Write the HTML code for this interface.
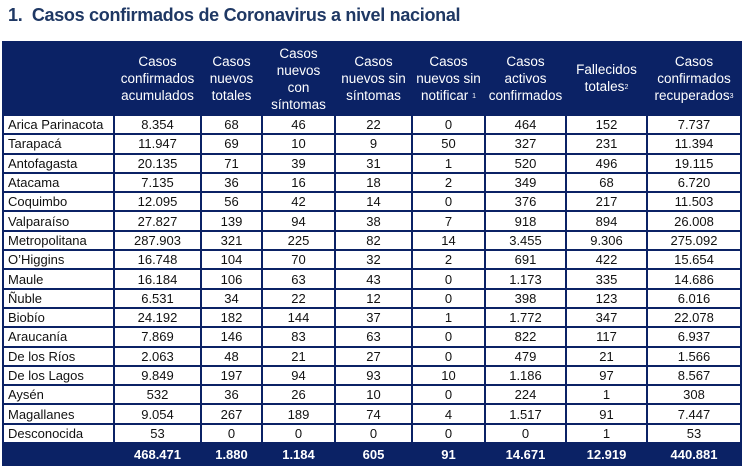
<!DOCTYPE html>
<html><head><meta charset="utf-8"><style>
body{margin:0;width:742px;height:465px;background:#fff;overflow:hidden;font-family:"Liberation Sans",sans-serif;}
h1{position:absolute;left:8px;top:5px;margin:0;font-size:18px;font-weight:bold;color:#1f3864;letter-spacing:-0.3px;}
table{position:absolute;left:2px;top:41px;border-collapse:collapse;table-layout:fixed;width:738px;}
td,th{border:2px solid #0b2265;padding:0;text-align:center;font-size:13px;color:#111;white-space:nowrap;overflow:hidden;}
th{background:#0b2265;color:#fff;font-weight:normal;line-height:17px;height:71px;font-size:13.5px;}
tr.r td{height:17.3px;line-height:15px;}
td.n{text-align:left;padding-left:4px;}
tr.t td{background:#0b2265;color:#fff;font-weight:bold;height:20px;}
sup{font-size:7px;vertical-align:2px;}
</style></head><body>
<h1>1.&nbsp; Casos confirmados de Coronavirus a nivel nacional</h1>
<table>
<colgroup><col style="width:111px"><col style="width:87px"><col style="width:61px"><col style="width:73px"><col style="width:77px"><col style="width:73px"><col style="width:81px"><col style="width:81px"><col style="width:94px"></colgroup>
<tr><th></th><th>Casos<br>confirmados<br>acumulados</th><th>Casos<br>nuevos<br>totales</th><th>Casos<br>nuevos<br>con<br>síntomas</th><th>Casos<br>nuevos sin<br>síntomas</th><th>Casos<br>nuevos sin<br>notificar <sup>1</sup></th><th>Casos<br>activos<br>confirmados</th><th>Fallecidos<br>totales<sup>2</sup></th><th>Casos<br>confirmados<br>recuperados<sup>3</sup></th></tr>
<tr class="r"><td class="n">Arica Parinacota</td><td>8.354</td><td>68</td><td>46</td><td>22</td><td>0</td><td>464</td><td>152</td><td>7.737</td></tr>
<tr class="r"><td class="n">Tarapacá</td><td>11.947</td><td>69</td><td>10</td><td>9</td><td>50</td><td>327</td><td>231</td><td>11.394</td></tr>
<tr class="r"><td class="n">Antofagasta</td><td>20.135</td><td>71</td><td>39</td><td>31</td><td>1</td><td>520</td><td>496</td><td>19.115</td></tr>
<tr class="r"><td class="n">Atacama</td><td>7.135</td><td>36</td><td>16</td><td>18</td><td>2</td><td>349</td><td>68</td><td>6.720</td></tr>
<tr class="r"><td class="n">Coquimbo</td><td>12.095</td><td>56</td><td>42</td><td>14</td><td>0</td><td>376</td><td>217</td><td>11.503</td></tr>
<tr class="r"><td class="n">Valparaíso</td><td>27.827</td><td>139</td><td>94</td><td>38</td><td>7</td><td>918</td><td>894</td><td>26.008</td></tr>
<tr class="r"><td class="n">Metropolitana</td><td>287.903</td><td>321</td><td>225</td><td>82</td><td>14</td><td>3.455</td><td>9.306</td><td>275.092</td></tr>
<tr class="r"><td class="n">O’Higgins</td><td>16.748</td><td>104</td><td>70</td><td>32</td><td>2</td><td>691</td><td>422</td><td>15.654</td></tr>
<tr class="r"><td class="n">Maule</td><td>16.184</td><td>106</td><td>63</td><td>43</td><td>0</td><td>1.173</td><td>335</td><td>14.686</td></tr>
<tr class="r"><td class="n">Ñuble</td><td>6.531</td><td>34</td><td>22</td><td>12</td><td>0</td><td>398</td><td>123</td><td>6.016</td></tr>
<tr class="r"><td class="n">Biobío</td><td>24.192</td><td>182</td><td>144</td><td>37</td><td>1</td><td>1.772</td><td>347</td><td>22.078</td></tr>
<tr class="r"><td class="n">Araucanía</td><td>7.869</td><td>146</td><td>83</td><td>63</td><td>0</td><td>822</td><td>117</td><td>6.937</td></tr>
<tr class="r"><td class="n">De los Ríos</td><td>2.063</td><td>48</td><td>21</td><td>27</td><td>0</td><td>479</td><td>21</td><td>1.566</td></tr>
<tr class="r"><td class="n">De los Lagos</td><td>9.849</td><td>197</td><td>94</td><td>93</td><td>10</td><td>1.186</td><td>97</td><td>8.567</td></tr>
<tr class="r"><td class="n">Aysén</td><td>532</td><td>36</td><td>26</td><td>10</td><td>0</td><td>224</td><td>1</td><td>308</td></tr>
<tr class="r"><td class="n">Magallanes</td><td>9.054</td><td>267</td><td>189</td><td>74</td><td>4</td><td>1.517</td><td>91</td><td>7.447</td></tr>
<tr class="r"><td class="n">Desconocida</td><td>53</td><td>0</td><td>0</td><td>0</td><td>0</td><td>0</td><td>1</td><td>53</td></tr>
<tr class="t"><td></td><td>468.471</td><td>1.880</td><td>1.184</td><td>605</td><td>91</td><td>14.671</td><td>12.919</td><td>440.881</td></tr>
</table>
</body></html>
